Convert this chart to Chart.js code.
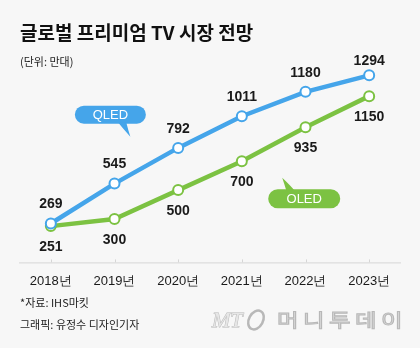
<!DOCTYPE html>
<html>
<head>
<meta charset="utf-8">
<script src="https://cdn.jsdelivr.net/npm/chart.js@4"></script>
<style>
html,body{margin:0;padding:0;background:#f7f7f7;}
#wrap{width:420px;height:348px;position:relative;}
</style>
</head>
<body>
<div id="wrap"><canvas id="tvChart" width="420" height="348"></canvas></div>
<script>
// 연도별 출하 전망 (단위: 만대)
const years=["2018년","2019년","2020년","2021년","2022년","2023년"];
const qled=[269,545,792,1011,1180,1294];
const oled=[251,300,500,700,935,1150];

const BLUE="#45a5ea", GREEN="#7cc242";
const KR="'Noto Sans CJK KR','Noto Sans',sans-serif";
const NUM="'Liberation Sans',Arial,sans-serif";

// 말풍선 위치 (x: 카테고리 인덱스, y: 값)
const tags=[
  {text:"QLED",color:BLUE,x:0.935,y:1022,w:71,h:18,tail:[20,22]},
  {text:"OLED",color:GREEN,x:3.98,y:440,w:72,h:19,tail:[-22,-21]}
];

function roundRect(ctx,x,y,w,h,r){
  ctx.beginPath();
  ctx.moveTo(x+r,y);ctx.lineTo(x+w-r,y);ctx.arc(x+w-r,y+r,r,-Math.PI/2,0);
  ctx.lineTo(x+w,y+h-r);ctx.arc(x+w-r,y+h-r,r,0,Math.PI/2);
  ctx.lineTo(x+r,y+h);ctx.arc(x+r,y+h-r,r,Math.PI/2,Math.PI);
  ctx.lineTo(x,y+r);ctx.arc(x+r,y+r,r,Math.PI,Math.PI*1.5);
  ctx.closePath();
}

const decor={
  id:"decor",
  beforeDraw(c){
    const ctx=c.ctx;
    ctx.save();ctx.fillStyle="#f7f7f7";ctx.fillRect(0,0,c.width,c.height);ctx.restore();
  },
  afterDatasetsDraw(c){
    const ctx=c.ctx, xs=c.scales.x, ys=c.scales.y, a=c.chartArea;
    ctx.save();
    // 축선과 눈금
    ctx.strokeStyle="#d6d6d6";ctx.lineWidth=1;
    ctx.beginPath();ctx.moveTo(a.left,a.bottom+0.5);ctx.lineTo(a.right,a.bottom+0.5);ctx.stroke();
    years.forEach((y,i)=>{const px=Math.round(xs.getPixelForValue(i))+0.5;
      ctx.beginPath();ctx.moveTo(px,a.bottom-3);ctx.lineTo(px,a.bottom);ctx.stroke();});

    // 값 라벨
    ctx.font="bold 14px "+NUM;ctx.fillStyle="#1a1a1a";ctx.textAlign="center";ctx.textBaseline="middle";
    c.getDatasetMeta(0).data.forEach((p,i)=>ctx.fillText(qled[i],p.x,Math.max(p.y-19,61)));
    c.getDatasetMeta(1).data.forEach((p,i)=>ctx.fillText(oled[i],p.x,p.y+21));

    // 말풍선
    tags.forEach(t=>{
      const cx=xs.getPixelForValue(t.x), cy=ys.getPixelForValue(t.y);
      const x=cx-t.w/2, y=cy-t.h/2;
      ctx.fillStyle=t.color;
      roundRect(ctx,x,y,t.w,t.h,t.h/2);ctx.fill();
      const tx=cx+t.tail[0], ty=cy+t.tail[1];
      const up=t.tail[1]<0, by=up?y+1:y+t.h-1;
      ctx.beginPath();
      if(up){ctx.moveTo(tx+4,by);ctx.quadraticCurveTo(tx+2,ty+6,tx,ty);ctx.quadraticCurveTo(tx+8,by-5,tx+12,by);}
      else{ctx.moveTo(tx-12,by);ctx.quadraticCurveTo(tx-8,by+5,tx,ty);ctx.quadraticCurveTo(tx-2,ty-6,tx-4,by);}
      ctx.closePath();ctx.fill();
      ctx.fillStyle="#fff";ctx.font="13px "+NUM;
      ctx.fillText(t.text,cx,cy+1);
    });
    ctx.restore();
  },
  afterDraw(c){
    const ctx=c.ctx;
    ctx.save();
    ctx.textAlign="left";ctx.textBaseline="middle";ctx.fillStyle="#111";
    ctx.font="bold 19px "+KR;
    ctx.fillText("글로벌 프리미엄 TV 시장 전망",20,33);
    ctx.font="11px "+KR;ctx.fillStyle="#222";
    ctx.fillText("(단위: 만대)",20,62);
    ctx.fillText("*자료: IHS마킷",20,303);
    ctx.fillText("그래픽: 유정수 디자인기자",20,325);

    // 머니투데이 로고
    ctx.fillStyle="#e6e6e6";ctx.strokeStyle="#b8b8b8";ctx.lineWidth=1;
    ctx.font="italic 22px 'Liberation Serif',serif";
    ctx.strokeText("MT",212,321);ctx.fillText("MT",212,321);
    ctx.beginPath();ctx.ellipse(256,320,7,10,0.5,0,Math.PI*2);ctx.lineWidth=2.5;ctx.stroke();
    ctx.lineWidth=1;
    ctx.font="18px "+KR;
    "머니투데이".split("").forEach((ch,i)=>{
      ctx.save();ctx.translate(277+i*26,320);ctx.scale(1.3,1);
      ctx.fillText(ch,0,0);ctx.strokeText(ch,0,0);ctx.restore();
    });
    ctx.restore();
  }
};

new Chart(document.getElementById("tvChart"),{
  type:"line",
  data:{labels:years,datasets:[
    {label:"QLED",data:qled,borderColor:BLUE,borderWidth:4.5,pointRadius:5,pointBorderWidth:2,
     pointBackgroundColor:"#fff",pointBorderColor:BLUE,tension:0},
    {label:"OLED",data:oled,borderColor:GREEN,borderWidth:4.5,pointRadius:5,pointBorderWidth:2,
     pointBackgroundColor:"#fff",pointBorderColor:GREEN,tension:0}
  ]},
  options:{
    responsive:false,animation:false,devicePixelRatio:1,
    layout:{padding:{left:19,right:19,top:60,bottom:48}},
    plugins:{legend:{display:false},tooltip:{enabled:false}},
    scales:{
      x:{offset:true,grid:{display:false,drawTicks:false},border:{display:false},
         ticks:{padding:11,color:"#1a1a1a",font:{family:NUM,size:13}}},
      y:{display:false,min:0,max:1400}
    }
  },
  plugins:[decor]
});
</script>
</body>
</html>
